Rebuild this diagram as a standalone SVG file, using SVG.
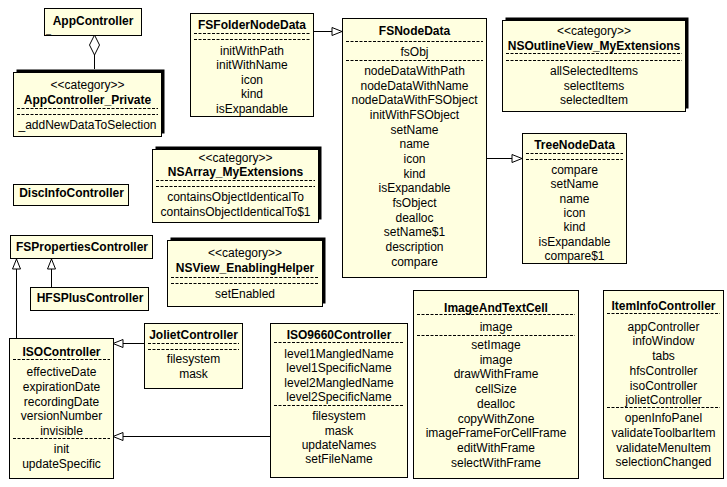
<svg xmlns="http://www.w3.org/2000/svg" width="727" height="487" viewBox="0 0 727 487">
<style>
.box{fill:#ffffe0;stroke:#000;stroke-width:1}
.sh{fill:#000}
text{font-family:"Liberation Sans",Arial,sans-serif;font-size:12px;fill:#000;text-anchor:middle}
.b{font-weight:bold}
.u{text-anchor:start;font-size:9px}
.d{stroke:#000;stroke-width:1;stroke-dasharray:3 1.5}
.c{stroke:#000;stroke-width:1;fill:none}
</style>
<defs>
<marker id="tri" markerWidth="12" markerHeight="10" refX="11" refY="5" orient="auto" markerUnits="userSpaceOnUse"><path d="M1,1 L11,5 L1,9 Z" fill="#fff" stroke="#000"/></marker>
</defs>
<rect width="727" height="487" fill="#fff"/>

<g id="connectors">
<path class="c" d="M94.5,55 L94.5,69"/>
<path d="M94.5,35 L99.5,45 L94.5,55 L89.5,45 Z" fill="#fff" stroke="#000"/>
<path class="c" d="M313,31.5 L342,31.5" marker-end="url(#tri)"/>
<path class="c" d="M486,158.5 L522,158.5" marker-end="url(#tri)"/>
<path class="c" d="M16.5,338 L16.5,259" marker-end="url(#tri)"/>
<path class="c" d="M51.5,287 L51.5,259" marker-end="url(#tri)"/>
<path class="c" d="M144,343.5 L113,343.5" marker-end="url(#tri)"/>
<path class="c" d="M270,436.5 L113,436.5" marker-end="url(#tri)"/>
</g>

<g id="AppController">
<rect class="box" x="44.5" y="8.5" width="97" height="27"/>
<text class="b" x="93" y="25">AppController</text>
<text class="u" x="46" y="33">_</text>
</g>

<g id="AppController_Private">
<rect class="sh" x="16.5" y="69.5" width="148" height="64"/>
<rect class="box" x="13.5" y="72.5" width="148" height="64"/>
<text x="87.5" y="89">&lt;&lt;category&gt;&gt;</text>
<text class="b" x="87.5" y="104">AppController_Private</text>
<line class="d" x1="17" y1="108.5" x2="158" y2="108.5"/>
<line class="d" x1="17" y1="114.5" x2="158" y2="114.5"/>
<text x="87.5" y="129">_addNewDataToSelection</text>
</g>

<g id="FSFolderNodeData">
<rect class="box" x="190.5" y="13.5" width="123" height="103"/>
<text class="b" x="252" y="29">FSFolderNodeData</text>
<line class="d" x1="194" y1="33.5" x2="310" y2="33.5"/>
<line class="d" x1="194" y1="39.5" x2="310" y2="39.5"/>
<text x="252" y="54.5">initWithPath</text>
<text x="252" y="69">initWithName</text>
<text x="252" y="83.5">icon</text>
<text x="252" y="98">kind</text>
<text x="252" y="112.5">isExpandable</text>
</g>

<g id="FSNodeData">
<rect class="box" x="342.5" y="18.5" width="144" height="259"/>
<text class="b" x="414.5" y="35">FSNodeData</text>
<line class="d" x1="346" y1="41.5" x2="483" y2="41.5"/>
<text x="414.5" y="56">fsObj</text>
<line class="d" x1="346" y1="60.5" x2="483" y2="60.5"/>
<text x="414.5" y="75">nodeDataWithPath</text>
<text x="414.5" y="89.6">nodeDataWithName</text>
<text x="414.5" y="104.3">nodeDataWithFSObject</text>
<text x="414.5" y="119">initWithFSObject</text>
<text x="414.5" y="133.6">setName</text>
<text x="414.5" y="148.3">name</text>
<text x="414.5" y="163">icon</text>
<text x="414.5" y="177.6">kind</text>
<text x="414.5" y="192.2">isExpandable</text>
<text x="414.5" y="206.9">fsObject</text>
<text x="414.5" y="221.5">dealloc</text>
<text x="414.5" y="236.2">setName$1</text>
<text x="414.5" y="250.8">description</text>
<text x="414.5" y="265.5">compare</text>
</g>

<g id="NSOutlineView_MyExtensions">
<rect class="sh" x="505.5" y="17.5" width="183" height="91"/>
<rect class="box" x="502.5" y="20.5" width="183" height="91"/>
<text x="594" y="35">&lt;&lt;category&gt;&gt;</text>
<text class="b" x="594" y="50">NSOutlineView_MyExtensions</text>
<line class="d" x1="506" y1="53.5" x2="682" y2="53.5"/>
<line class="d" x1="506" y1="60.5" x2="682" y2="60.5"/>
<text x="594" y="75">allSelectedItems</text>
<text x="594" y="89.5">selectItems</text>
<text x="594" y="104">selectedItem</text>
</g>

<g id="TreeNodeData">
<rect class="box" x="522.5" y="133.5" width="104" height="130"/>
<text class="b" x="574.5" y="149">TreeNodeData</text>
<line class="d" x1="526" y1="153.5" x2="623" y2="153.5"/>
<line class="d" x1="526" y1="159.5" x2="623" y2="159.5"/>
<text x="574.5" y="174">compare</text>
<text x="574.5" y="188.3">setName</text>
<text x="574.5" y="202.6">name</text>
<text x="574.5" y="216.9">icon</text>
<text x="574.5" y="231.2">kind</text>
<text x="574.5" y="245.5">isExpandable</text>
<text x="574.5" y="259.8">compare$1</text>
</g>

<g id="NSArray_MyExtensions">
<rect class="sh" x="155.5" y="146.5" width="166" height="73"/>
<rect class="box" x="152.5" y="149.5" width="166" height="73"/>
<text x="235.5" y="162">&lt;&lt;category&gt;&gt;</text>
<text class="b" x="235.5" y="176">NSArray_MyExtensions</text>
<line class="d" x1="156" y1="180.5" x2="315" y2="180.5"/>
<line class="d" x1="156" y1="186.5" x2="315" y2="186.5"/>
<text x="235.5" y="201">containsObjectIdenticalTo</text>
<text x="235.5" y="215.5">containsObjectIdenticalTo$1</text>
</g>

<g id="DiscInfoController">
<rect class="box" x="13.5" y="184.5" width="115" height="21"/>
<text class="b" x="71.5" y="197">DiscInfoController</text>
<text class="u" x="15" y="203.5">_</text>
</g>

<g id="FSPropertiesController">
<rect class="box" x="10.5" y="235.5" width="142" height="23"/>
<text class="b" x="82" y="250.5">FSPropertiesController</text>
<text class="u" x="12" y="256.5">_</text>
</g>

<g id="HFSPlusController">
<rect class="box" x="30.5" y="287.5" width="118" height="23"/>
<text class="b" x="90" y="302">HFSPlusController</text>
<text class="u" x="32" y="308.5">_</text>
</g>

<g id="NSView_EnablingHelper">
<rect class="sh" x="170.5" y="237.5" width="155" height="66"/>
<rect class="box" x="167.5" y="240.5" width="155" height="66"/>
<text x="245" y="257">&lt;&lt;category&gt;&gt;</text>
<text class="b" x="245" y="272">NSView_EnablingHelper</text>
<line class="d" x1="171" y1="277.5" x2="319" y2="277.5"/>
<line class="d" x1="171" y1="283.5" x2="319" y2="283.5"/>
<text x="245" y="298">setEnabled</text>
</g>

<g id="ISOController">
<rect class="box" x="9.5" y="338.5" width="104" height="140"/>
<text class="b" x="61.5" y="355.7">ISOController</text>
<line class="d" x1="13" y1="359.5" x2="110" y2="359.5"/>
<text x="61.5" y="376.3">effectiveDate</text>
<text x="61.5" y="391">expirationDate</text>
<text x="61.5" y="405.7">recordingDate</text>
<text x="61.5" y="420.3">versionNumber</text>
<text x="61.5" y="434.7">invisible</text>
<line class="d" x1="13" y1="438.5" x2="110" y2="438.5"/>
<text x="61.5" y="453.3">init</text>
<text x="61.5" y="468">updateSpecific</text>
</g>

<g id="JolietController">
<rect class="box" x="144.5" y="323.5" width="98" height="65"/>
<text class="b" x="193.5" y="339">JolietController</text>
<line class="d" x1="148" y1="343.5" x2="239" y2="343.5"/>
<line class="d" x1="148" y1="349.5" x2="239" y2="349.5"/>
<text x="193.5" y="363.3">filesystem</text>
<text x="193.5" y="377.5">mask</text>
</g>

<g id="ISO9660Controller">
<rect class="box" x="270.5" y="323.5" width="137" height="154"/>
<text class="b" x="339" y="339">ISO9660Controller</text>
<line class="d" x1="274" y1="342.5" x2="404" y2="342.5"/>
<text x="339" y="358">level1MangledName</text>
<text x="339" y="372.4">level1SpecificName</text>
<text x="339" y="386.8">level2MangledName</text>
<text x="339" y="401.2">level2SpecificName</text>
<line class="d" x1="274" y1="405.5" x2="404" y2="405.5"/>
<text x="339" y="420">filesystem</text>
<text x="339" y="434.6">mask</text>
<text x="339" y="449">updateNames</text>
<text x="339" y="463.4">setFileName</text>
</g>

<g id="ImageAndTextCell">
<rect class="box" x="413.5" y="290.5" width="165" height="188"/>
<text class="b" x="496" y="311.7">ImageAndTextCell</text>
<line class="d" x1="417" y1="314.5" x2="575" y2="314.5"/>
<text x="496" y="330.7">image</text>
<line class="d" x1="417" y1="335.5" x2="575" y2="335.5"/>
<text x="496" y="349">setImage</text>
<text x="496" y="363.7">image</text>
<text x="496" y="378.4">drawWithFrame</text>
<text x="496" y="393.1">cellSize</text>
<text x="496" y="407.8">dealloc</text>
<text x="496" y="422.5">copyWithZone</text>
<text x="496" y="437.2">imageFrameForCellFrame</text>
<text x="496" y="451.9">editWithFrame</text>
<text x="496" y="466.6">selectWithFrame</text>
</g>

<g id="ItemInfoController">
<rect class="box" x="603.5" y="290.5" width="120" height="188"/>
<text class="b" x="663.5" y="309.7">ItemInfoController</text>
<line class="d" x1="607" y1="313.5" x2="720" y2="313.5"/>
<text x="663.5" y="330.7">appController</text>
<text x="663.5" y="345.4">infoWindow</text>
<text x="663.5" y="360.1">tabs</text>
<text x="663.5" y="374.8">hfsController</text>
<text x="663.5" y="389.5">isoController</text>
<text x="663.5" y="404.2">jolietController</text>
<line class="d" x1="607" y1="407.5" x2="720" y2="407.5"/>
<text x="663.5" y="422.3">openInfoPanel</text>
<text x="663.5" y="437">validateToolbarItem</text>
<text x="663.5" y="451.7">validateMenuItem</text>
<text x="663.5" y="466.4">selectionChanged</text>
</g>
</svg>
